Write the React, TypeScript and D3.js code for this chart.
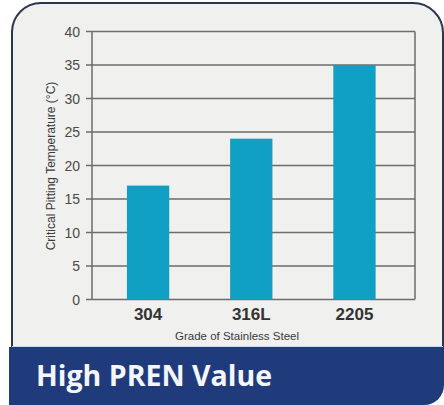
import React, { useEffect, useRef } from "react";
import * as d3 from "d3";

const grades = ["304", "316L", "2205"];
const cptValues = [17, 24, 35];
const yTicks = [0, 5, 10, 15, 20, 25, 30, 35, 40];

const App = () => {
  const svgRef = useRef(null);

  useEffect(() => {
    if (!svgRef.current) return;
    const svg = d3.select(svgRef.current);
    svg.selectAll("*").remove();

    const W = 444;
    const H = 405;

    // card background with rounded corners
    const card = d3.path();
    card.moveTo(12, 32);
    card.arcTo(12, 3, 40, 3, 29);
    card.lineTo(413, 3);
    card.arcTo(443, 3, 443, 33, 30);
    card.lineTo(443, 347);
    card.lineTo(12, 347);
    card.closePath();
    svg
      .append("path")
      .attr("d", card.toString())
      .attr("fill", "#f0f0ef")
      .attr("stroke", "#2b3752")
      .attr("stroke-width", 2);

    // bottom band
    const band = d3.path();
    band.moveTo(9, 347);
    band.lineTo(444, 347);
    band.lineTo(444, 385);
    band.arcTo(444, 405, 424, 405, 20);
    band.lineTo(9, 405);
    band.closePath();
    svg.append("path").attr("d", band.toString()).attr("fill", "#1f3b7b");
    svg
      .append("line")
      .attr("x1", 12)
      .attr("x2", 443)
      .attr("y1", 346.5)
      .attr("y2", 346.5)
      .attr("stroke", "#c9d6ee")
      .attr("stroke-width", 1);

    svg
      .append("text")
      .attr("x", 36)
      .attr("y", 386)
      .attr("fill", "#f4f6fb")
      .style("font-family", "'Open Sans', sans-serif")
      .style("font-weight", 700)
      .style("font-size", "28.5px")
      .text("High PREN Value");

    const left = 92;
    const right = 415;
    const top = 31.5;
    const bottom = 299.5;

    const y = d3.scaleLinear().domain([0, 40]).range([bottom, top]);
    const x = d3
      .scaleBand()
      .domain(grades)
      .range([left, right])
      .paddingInner(0.59)
      .paddingOuter(0.36)
      .align(0.47);

    // gridlines
    svg
      .append("g")
      .selectAll("line")
      .data(yTicks)
      .enter()
      .append("line")
      .attr("x1", left - 6)
      .attr("x2", right)
      .attr("y1", (d) => y(d))
      .attr("y2", (d) => y(d))
      .attr("stroke", "#6d6d6d")
      .attr("stroke-width", 1.5);

    // frame
    svg
      .append("line")
      .attr("x1", left)
      .attr("x2", left)
      .attr("y1", top)
      .attr("y2", bottom)
      .attr("stroke", "#6d6d6d")
      .attr("stroke-width", 1.5);
    svg
      .append("line")
      .attr("x1", right)
      .attr("x2", right)
      .attr("y1", top)
      .attr("y2", bottom)
      .attr("stroke", "#6d6d6d")
      .attr("stroke-width", 1.5);

    // bars
    svg
      .append("g")
      .selectAll("rect")
      .data(grades)
      .enter()
      .append("rect")
      .attr("x", (d) => x(d))
      .attr("y", (d, i) => y(cptValues[i]))
      .attr("width", x.bandwidth())
      .attr("height", (d, i) => bottom - y(cptValues[i]))
      .attr("fill", "#10a0c4");

    // y tick labels
    svg
      .append("g")
      .selectAll("text")
      .data(yTicks)
      .enter()
      .append("text")
      .attr("x", 80)
      .attr("y", (d) => y(d) + 5)
      .attr("text-anchor", "end")
      .attr("fill", "#4a4a4a")
      .style("font-family", "'Liberation Sans', Arial, sans-serif")
      .style("font-size", "14px")
      .text((d) => d);

    // x tick labels
    svg
      .append("g")
      .selectAll("text")
      .data(grades)
      .enter()
      .append("text")
      .attr("x", (d) => x(d) + x.bandwidth() / 2)
      .attr("y", 320)
      .attr("text-anchor", "middle")
      .attr("fill", "#333333")
      .style("font-family", "'Liberation Sans', Arial, sans-serif")
      .style("font-weight", 700)
      .style("font-size", "17px")
      .text((d) => d);

    // axis titles
    svg
      .append("text")
      .attr("x", 237)
      .attr("y", 340)
      .attr("text-anchor", "middle")
      .attr("fill", "#3a3a3a")
      .style("font-family", "'Liberation Sans', Arial, sans-serif")
      .style("font-size", "11.5px")
      .text("Grade of Stainless Steel");

    svg
      .append("text")
      .attr("transform", "translate(55,166) rotate(-90)")
      .attr("text-anchor", "middle")
      .attr("fill", "#3a3a3a")
      .style("font-family", "'Liberation Sans', Arial, sans-serif")
      .style("font-size", "12px")
      .text("Critical Pitting Temperature (°C)");

    svg.attr("width", W).attr("height", H);
  }, []);

  return (
    <svg
      ref={svgRef}
      style={{ position: "absolute", left: 0, top: 0, display: "block" }}
    ></svg>
  );
};

export default App;
